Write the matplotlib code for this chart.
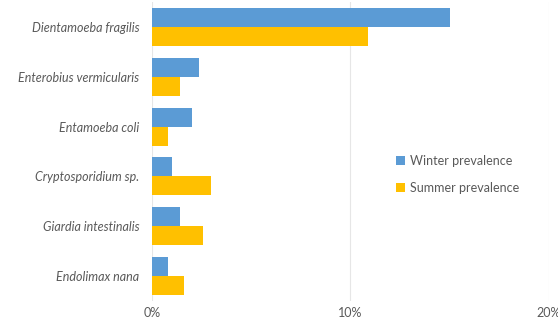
import numpy as np
import matplotlib
matplotlib.use("Agg")
from matplotlib import pyplot as plt
from matplotlib.ticker import FuncFormatter

species = [
    "Dientamoeba fragilis",
    "Enterobius vermicularis",
    "Entamoeba coli",
    "Cryptosporidium sp.",
    "Giardia intestinalis",
    "Endolimax nana",
]
winter = [15.0, 2.4, 2.0, 1.0, 1.4, 0.8]
summer = [10.9, 1.4, 0.8, 3.0, 2.6, 1.6]

blue = "#5B9BD5"
gold = "#FFC000"
grey = "#595959"

plt.rcParams["font.family"] = ["Lato", "DejaVu Sans"]

fig = plt.figure(figsize=(5.58, 3.23), dpi=100)
ax = fig.add_axes([0.272, 0.068, 0.712, 0.926])

y = np.arange(len(species))
h = 0.38
ax.barh(y - h / 2, winter, height=h, color=blue, label="Winter prevalence", zorder=2)
ax.barh(y + h / 2, summer, height=h, color=gold, label="Summer prevalence", zorder=2)

ax.set_ylim(len(species) - 0.5, -0.5)
ax.set_xlim(0, 20)
ax.set_xticks([0, 10, 20])
ax.xaxis.set_major_formatter(FuncFormatter(lambda v, p: f"{v:.0f}%"))
ax.set_yticks(y)
ax.set_yticklabels(species, fontstyle="italic")
ax.tick_params(axis="both", length=0, colors=grey, labelsize=9)
ax.tick_params(axis="x", pad=4)
ax.tick_params(axis="y", pad=9)
ax.grid(axis="x", color="#e6e6e6", linewidth=0.8, zorder=0)
for s in ax.spines.values():
    s.set_visible(False)

leg = fig.legend(
    loc="upper left",
    bbox_to_anchor=(0.69, 0.555),
    frameon=False,
    fontsize=9,
    handlelength=0.7,
    handleheight=0.7,
    handletextpad=0.4,
    labelspacing=1.2,
)
for t in leg.get_texts():
    t.set_color(grey)

fig.savefig("out.png", dpi=100)
